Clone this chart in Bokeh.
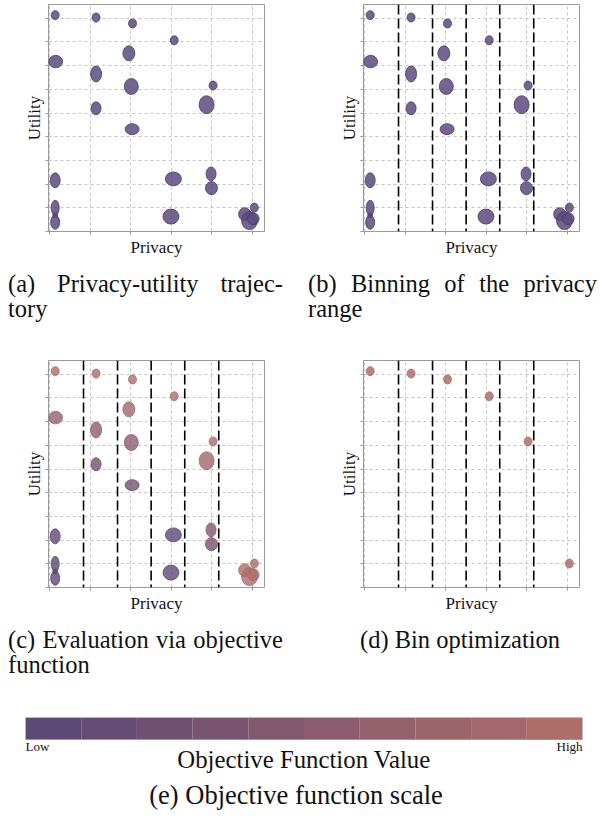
from bokeh.plotting import figure
from bokeh.models import (Range1d, Span, Div, LinearColorMapper,
                          ColumnDataSource, FixedTicker)
from bokeh.layouts import column, row
from bokeh.embed import file_html
from bokeh.resources import INLINE
from bokeh.core.properties import value

# ---------------- data ----------------
privacy = [0.13, 1.14, 2.04, 3.07, 1.95, 0.14, 1.14, 2.01, 4.03, 1.14, 3.87, 2.03,
           0.13, 3.05, 3.98, 3.99, 0.13, 0.13, 0.13, 2.99, 4.81, 5.05, 4.93, 5.02]
utility = [9.13, 9.03, 8.78, 8.07, 7.52, 7.17, 6.65, 6.12, 6.16, 5.20, 5.35, 4.32,
           2.16, 2.22, 2.43, 1.83, 1.00, 0.68, 0.39, 0.63, 0.73, 1.01, 0.46, 0.54]
spread_w = [8, 8, 8, 8, 12, 14, 11, 14, 8, 10, 15, 14,
            10, 16, 10, 12, 8, 5, 9, 16, 12, 8, 16, 12]
spread_h = [9, 9, 9, 9, 15, 12.5, 16, 16, 9, 13, 18, 11,
            15, 14, 14, 13, 15, 5, 14, 15, 13, 9, 18, 12]
objective = [0.95, 0.95, 0.90, 0.90, 0.85, 0.65, 0.55, 0.50, 0.90, 0.30, 0.85, 0.20,
             0.05, 0.00, 0.40, 0.35, 0.05, 0.00, 0.05, 0.00, 0.90, 0.95, 0.90, 0.90]
best_in_bin = [0, 1, 2, 3, 8, 21]
bin_edges = [0.83, 1.67, 2.50, 3.33, 4.17]
x_ticks = [0, 1, 2, 3, 4, 5]
y_ticks = [0, 1, 2, 3, 4, 5, 6, 7, 8, 9]
palette = ["#5c4a76", "#654c74", "#6f5072", "#785470", "#82586f",
           "#8b5c6e", "#94616d", "#9c656c", "#a3686b", "#ad6d69"]
scale_labels = ["Low", "High"]
scale_title = "Objective Function Value"

SERIF = "Liberation Serif"
PURPLE = "#5c4b7e"


def panel(left, top):
    p = figure(width=300, height=227 + top + 40, output_backend="svg", toolbar_location=None,
               x_range=Range1d(-0.035, 5.3), y_range=Range1d(0, 9.58),
               min_border_left=48 if left else 63, min_border_right=36 if left else 21,
               min_border_top=top, min_border_bottom=40,
               background_fill_color="white", border_fill_color="white")
    p.outline_line_color = "#999999"
    p.outline_line_width = 1
    for ax, ticks, label, stand in ((p.xaxis[0], x_ticks, "Privacy", 3),
                                    (p.yaxis[0], y_ticks, "Utility", 2)):
        ax.ticker = FixedTicker(ticks=ticks)
        ax.major_label_text_font_size = "0px"
        ax.major_label_text_color = None
        ax.major_label_text_alpha = 0
        ax.major_label_standoff = 0
        ax.major_tick_in = 0
        ax.major_tick_out = 3
        ax.minor_tick_line_color = None
        ax.major_tick_line_color = "#999999"
        ax.axis_line_color = None
        ax.axis_label = label
        ax.axis_label_text_font = SERIF
        ax.axis_label_text_font_size = "17px"
        ax.axis_label_text_font_style = "normal"
        ax.axis_label_text_color = "#111111"
        ax.axis_label_standoff = stand
    p.xgrid.ticker = FixedTicker(ticks=x_ticks)
    p.ygrid.ticker = FixedTicker(ticks=y_ticks)
    for g in (p.xgrid[0], p.ygrid[0]):
        g.grid_line_color = "#c4c4c4"
        g.grid_line_dash = "3 3"
        g.grid_line_width = 1
    return p


def add_bins(p):
    for e in bin_edges:
        p.add_layout(Span(location=e, dimension="height", line_color="black",
                          line_dash="10 4", line_width=1.6))


src = ColumnDataSource(dict(privacy=privacy, utility=utility, w=spread_w,
                            h=spread_h, objective=objective))
best_src = ColumnDataSource(dict(privacy=[privacy[i] for i in best_in_bin],
                                 utility=[utility[i] for i in best_in_bin],
                                 objective=[objective[i] for i in best_in_bin]))
mapper = LinearColorMapper(palette=palette, low=0, high=1)

pa = panel(True, 4)
pa.ellipse(x="privacy", y="utility", width="w", height="h", width_units="screen",
           height_units="screen", source=src, fill_color=PURPLE, fill_alpha=0.85,
           line_color="#4a3b6a", line_width=0.8)

pb = panel(False, 4)
add_bins(pb)
pb.ellipse(x="privacy", y="utility", width="w", height="h", width_units="screen",
           height_units="screen", source=src, fill_color=PURPLE, fill_alpha=0.85,
           line_color="#4a3b6a", line_width=0.8)

pc = panel(True, 1)
add_bins(pc)
pc.ellipse(x="privacy", y="utility", width="w", height="h", width_units="screen",
           height_units="screen", source=src,
           fill_color={"field": "objective", "transform": mapper}, fill_alpha=0.8,
           line_color={"field": "objective", "transform": mapper}, line_width=0.8)

pd = panel(False, 1)
add_bins(pd)
pd.ellipse(x="privacy", y="utility", width=8, height=9, width_units="screen",
           height_units="screen", source=best_src,
           fill_color={"field": "objective", "transform": mapper}, fill_alpha=0.85,
           line_color={"field": "objective", "transform": mapper}, line_width=0.8)

# colour scale: frame spans the bar (top unit, 22px) and the text below it
cb = figure(width=600, height=81, output_backend="svg", toolbar_location=None,
            x_range=Range1d(0, len(palette)), y_range=Range1d(-1.909, 1),
            min_border_left=25, min_border_right=18, min_border_top=17,
            min_border_bottom=0, background_fill_color="white",
            border_fill_color="white")
cells = list(range(len(palette)))
cb.quad(left=cells, right=[c + 1 for c in cells], bottom=0, top=1,
        fill_color=palette, line_color=None)
cb.quad(left=[0], right=[len(palette)], bottom=[0], top=[1], fill_color=None,
        line_color="#999999", line_width=1)
cb.outline_line_color = None
cb.grid.visible = False
cb.axis.visible = False
cb.text(x=[0], y=[-0.32], text=[scale_labels[0]], text_align="left",
        text_baseline="alphabetic", text_font=value(SERIF), text_font_size="13px",
        text_color="#111111")
cb.text(x=[len(palette)], y=[-0.32], text=[scale_labels[1]], text_align="right",
        text_baseline="alphabetic", text_font=value(SERIF), text_font_size="13px",
        text_color="#111111")
cb.text(x=[len(palette) / 2], y=[-0.91], text=[scale_title], text_align="center",
        text_baseline="alphabetic", text_font=value(SERIF), text_font_size="24.8px",
        text_color="#111111")

CAP = ("font-family:'Liberation Serif';font-size:24.5px;line-height:25px;"
       "color:#111111;")


def caption2(first, second, pad, width, height):
    html = (f'<div style="{CAP}padding-left:{pad}px;">'
            f'<div style="width:{width}px;text-align:justify;text-align-last:justify;">{first}</div>'
            f'<div>{second}</div></div>')
    return Div(text=html, width=300, height=height, margin=0)


cap_a = caption2("(a) Privacy-utility trajec-", "tory", 8, 275, 88)
cap_b = caption2("(b) Binning of the privacy", "range", 8, 289, 88)
cap_c = caption2("(c) Evaluation via objective", "function", 8, 275, 73)
cap_d = Div(text=f'<div style="{CAP}padding-left:60px;white-space:nowrap;">(d) Bin optimization</div>',
            width=300, height=73, margin=0)
cap_e = Div(text=('<div style="font-family:\'Liberation Serif\';font-size:26.5px;line-height:28px;'
                  'color:#111111;width:592px;text-align:center;">(e) Objective function scale</div>'),
            width=600, height=36, margin=0)

layout = column(row(pa, pb), row(cap_a, cap_b), row(pc, pd), row(cap_c, cap_d), cb, cap_e)

open("out.html", "w").write(file_html(layout, INLINE))
